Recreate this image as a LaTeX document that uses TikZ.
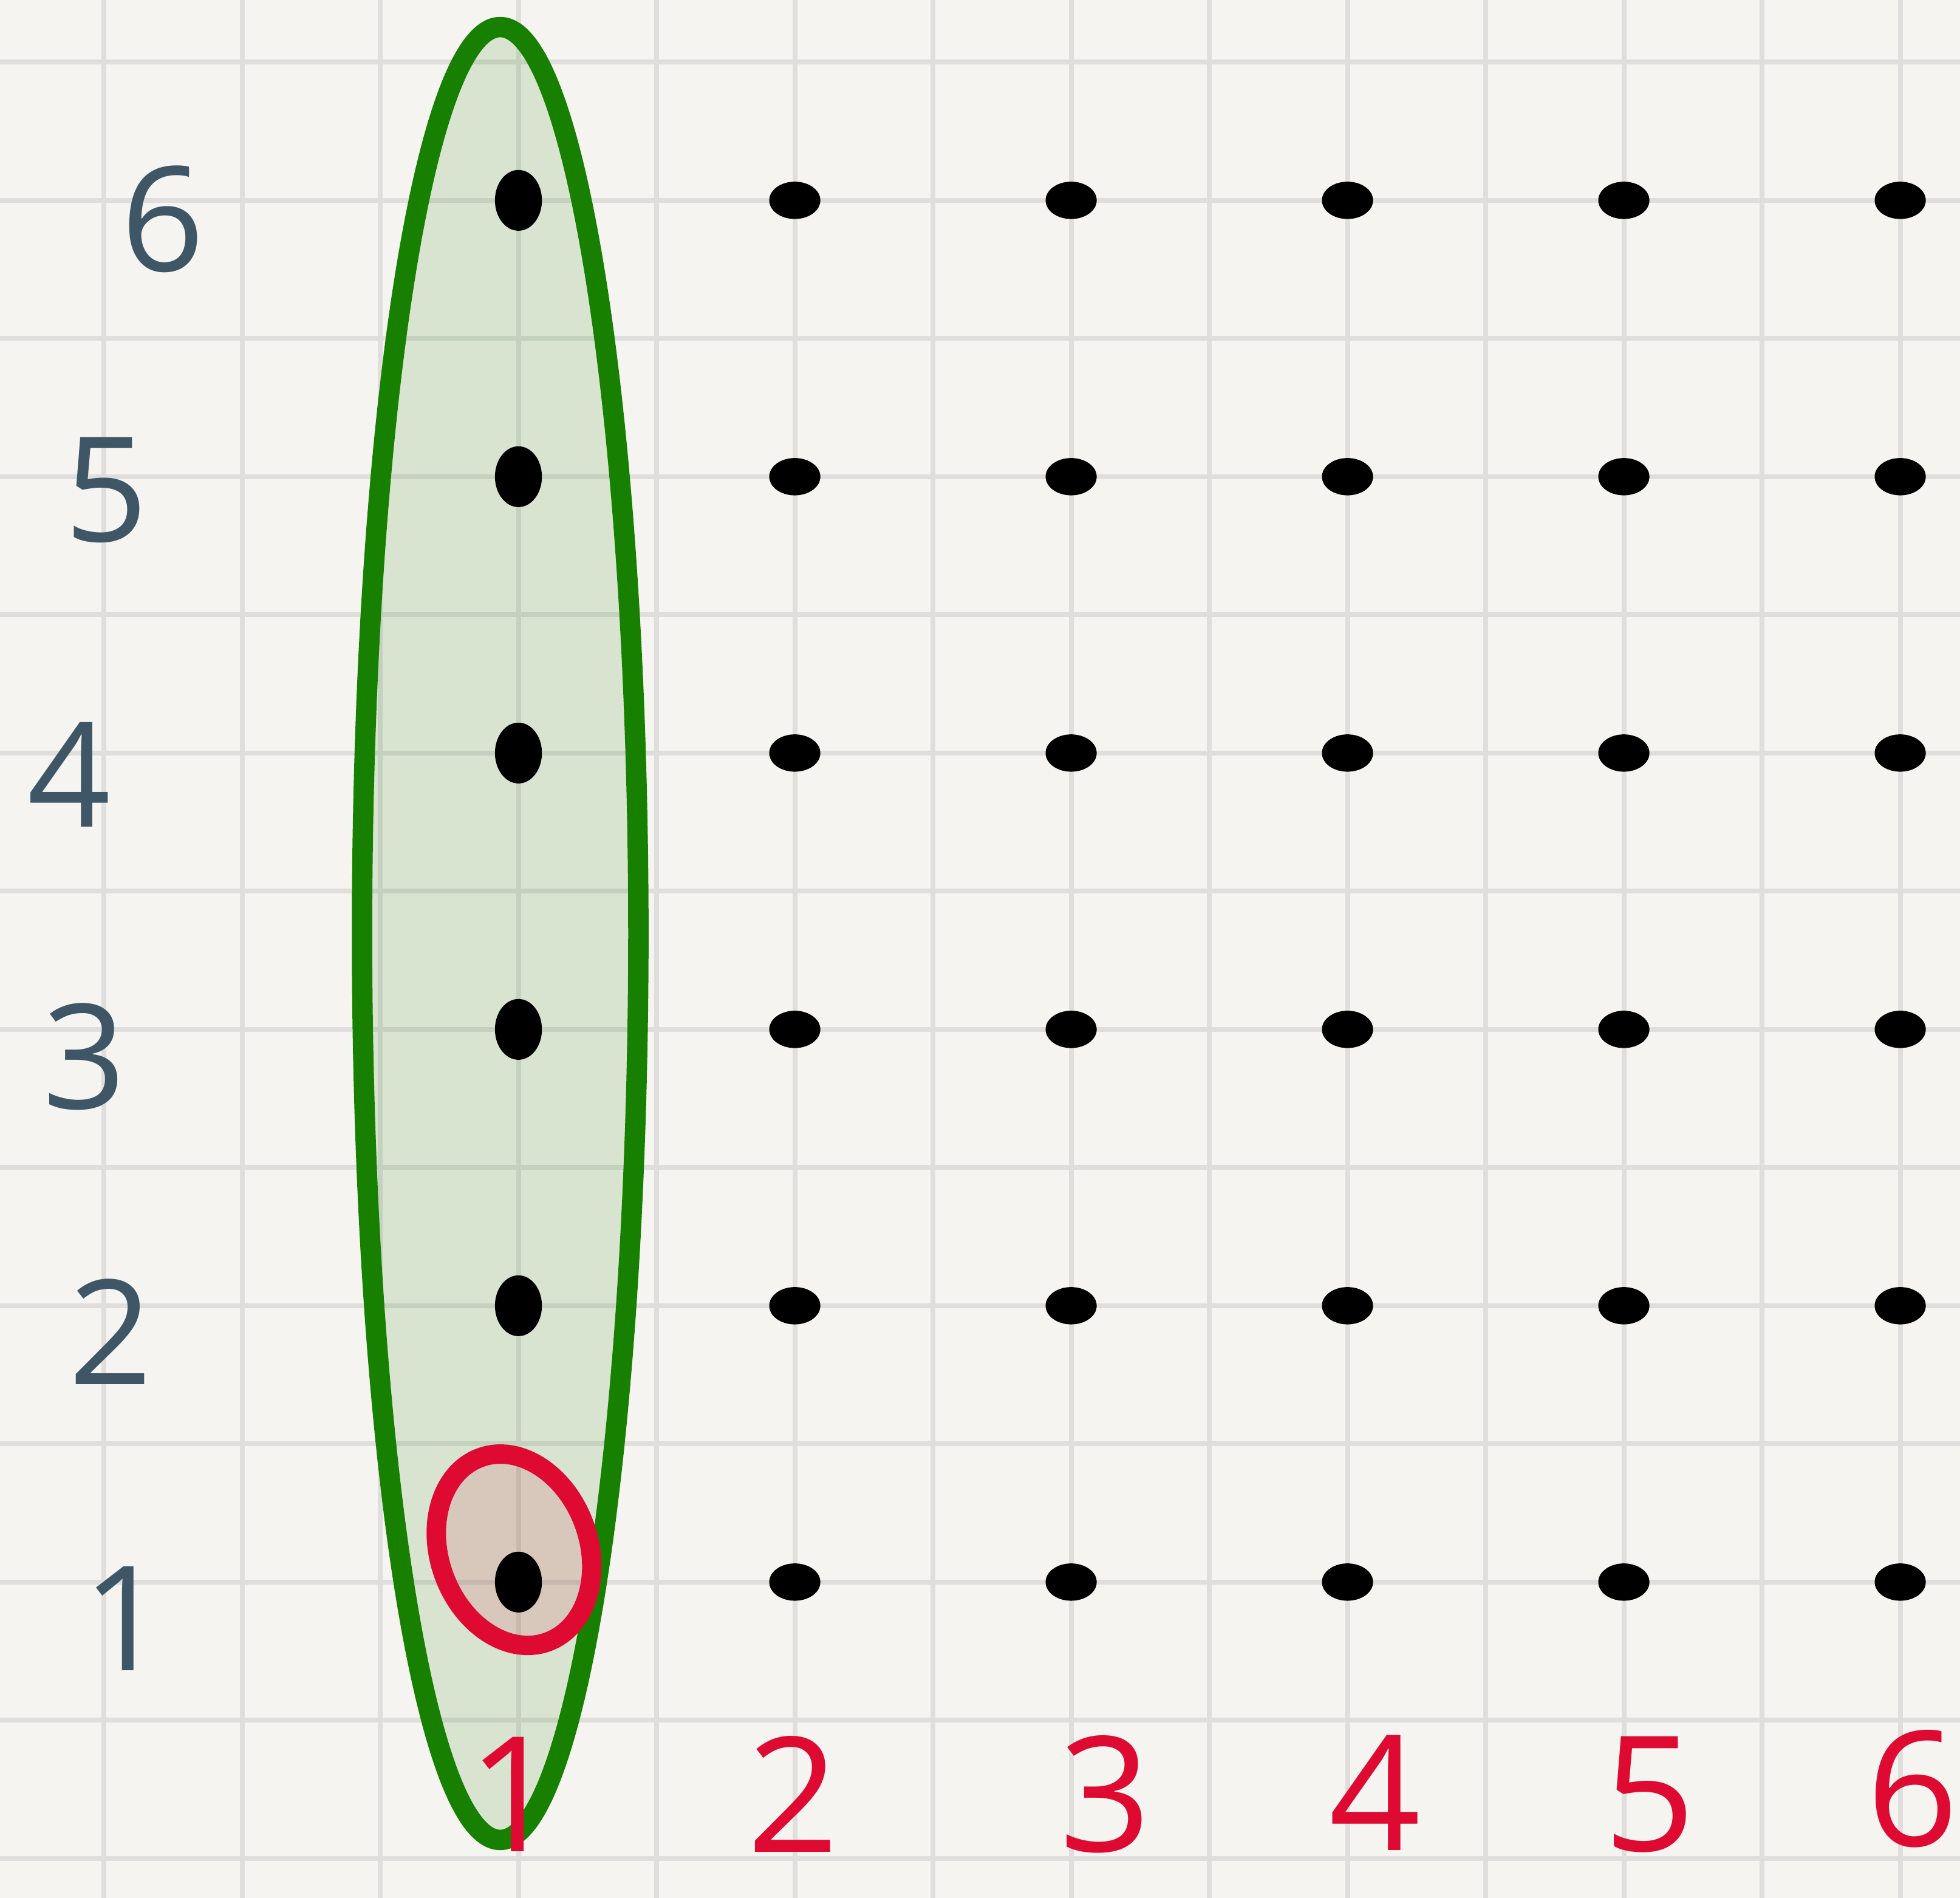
\documentclass[tikz,border=0pt]{standalone}
\usepackage{fontspec}
\setsansfont{Open Sans}
\usepackage{tikz}
\usetikzlibrary{shapes.geometric}
\usepackage{xcolor}

\definecolor{paper}{HTML}{F5F4F0}
\definecolor{gridgray}{HTML}{DFDEDC}
\definecolor{leafgreen}{HTML}{188000}
\definecolor{crimson}{HTML}{DE0A32}
\definecolor{slate}{HTML}{3E5666}

\begin{document}
\begin{tikzpicture}[x=1cm,y=1cm,
  dot/.style={ellipse,fill=black,inner sep=0pt,minimum width=0.37cm,minimum height=0.27cm},
  coldot/.style={dot,minimum width=0.34cm,minimum height=0.44cm},
  rowlab/.style={text=slate,inner sep=0pt,font=\sffamily\fontsize{30}{32}\selectfont},
  collab/.style={text=crimson,inner sep=0pt,font=\sffamily\fontsize{33}{35}\selectfont}]
  \useasboundingbox[fill=paper] (0,0) rectangle (14.185,13.736);

  % 方眼
  \foreach \k in {0,...,13} {
    \draw[gridgray,line width=1pt] (0.752+\k,0) -- (0.752+\k,13.736);
    \draw[gridgray,line width=1pt] (0,0.286+\k) -- (14.185,0.286+\k);
  }

  % 事象 {X=1}
  \coordinate (c1) at (3.62,6.98);
  \fill[leafgreen,opacity=0.13] (c1) ellipse [x radius=1.0,y radius=6.56];
  \draw[leafgreen,line width=4.2pt] (c1) ellipse [x radius=1.0,y radius=6.56];

  % 根元事象 (1,1)
  \coordinate (e11) at (3.72,2.52);
  \fill[crimson,opacity=0.13,rotate around={20:(e11)}] (e11) ellipse [x radius=0.54,y radius=0.71];
  \draw[crimson,line width=4pt,rotate around={20:(e11)}] (e11) ellipse [x radius=0.54,y radius=0.71];

  % 標本点
  \foreach \j in {1,...,6} {
    \node[coldot] (d1\j) at (3.752,0.286+2*\j) {};
    \foreach \i in {2,...,6}
      \node[dot] (d\i\j) at (1.752+2*\i,0.286+2*\j) {};
  }

  % 目の値
  \foreach \n/\x/\y in {1/0.90/2.02,2/0.80/4.10,3/0.61/6.09,4/0.50/8.13,5/0.77/10.19,6/1.18/12.15}
    \node[rowlab] (r\n) at (\x,\y) {\n};
  \foreach \n/\x/\y in {1/3.72/0.75,2/5.74/0.75,3/8.00/0.75,4/9.95/0.76,5/11.94/0.75,6/13.84/0.79}
    \node[collab] (k\n) at (\x,\y) {\n};
\end{tikzpicture}
\end{document}
